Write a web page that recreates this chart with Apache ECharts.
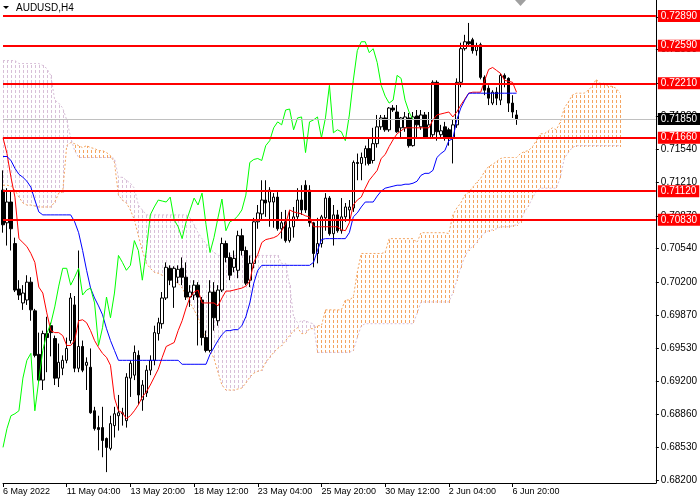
<!DOCTYPE html>
<html><head><meta charset="utf-8">
<script src="https://cdn.jsdelivr.net/npm/echarts@6/dist/echarts.min.js"></script>
<style>html,body{margin:0;padding:0;background:#fff}#c{width:700px;height:500px}</style>
</head><body><div id="c"></div>
<script>
const symbolTitle = 'AUDUSD,H4';
const slotCount = 165;
const xTickLabels = ['6 May 2022','11 May 04:00','13 May 20:00','18 May 12:00','23 May 04:00','25 May 20:00','30 May 12:00','2 Jun 04:00','6 Jun 20:00'];
const yTickValues = [0.6820,0.6853,0.6886,0.6920,0.6953,0.6987,0.7020,0.7054,0.7087,0.7121,0.7154,0.7188,0.7221,0.7255,0.7288];
const levels = [0.7289,0.7259,0.7221,0.7166,0.7112,0.7083];
const bidPrice = 0.7185;

const open = [
0.7113,0.7080,0.7101,0.7059,0.7013,0.6999,0.7002,0.7020,0.6991,0.6947,
0.6921,0.6968,0.6976,0.6963,0.6923,0.6933,0.6941,0.6961,0.6997,0.6933,
0.6955,0.6936,0.6934,0.6890,0.6873,0.6873,0.6862,0.6852,0.6875,0.6885,
0.6887,0.6880,0.6923,0.6926,0.6946,0.6901,0.6908,0.6931,0.6941,0.6968,
0.6978,0.7004,0.7034,0.7015,0.7025,0.7034,0.7025,0.7005,0.7007,0.7017,
0.7002,0.6964,0.6951,0.7010,0.6981,0.7012,0.7059,0.7045,0.7035,0.7032,
0.7067,0.7052,0.7022,0.7039,0.7081,0.7089,0.7103,0.7101,0.7101,0.7106,
0.7074,0.7081,0.7062,0.7076,0.7086,0.7103,0.7118,0.7113,0.7080,0.7049,
0.7059,0.7085,0.7105,0.7069,0.7088,0.7072,0.7086,0.7093,0.7095,0.7141,
0.7140,0.7146,0.7155,0.7143,0.7160,0.7177,0.7186,0.7174,0.7196,0.7192,
0.7176,0.7176,0.7186,0.7158,0.7188,0.7177,0.7189,0.7166,0.7169,0.7222,
0.7169,0.7177,0.7174,0.7166,0.7179,0.7222,0.7256,0.7263,0.7265,0.7254,
0.7260,0.7227,0.7216,0.7201,0.7212,0.7204,0.7229,0.7226,0.7201,0.7189];
const close = [
0.7078,0.7101,0.7074,0.7012,0.7007,0.7009,0.7020,0.6992,0.6946,0.6921,
0.6968,0.6964,0.6969,0.6923,0.6939,0.6941,0.6953,0.7004,0.6933,0.6955,
0.6931,0.6939,0.6888,0.6872,0.6871,0.6860,0.6853,0.6877,0.6887,0.6888,
0.6888,0.6924,0.6938,0.6949,0.6906,0.6916,0.6931,0.6941,0.6969,0.6979,
0.7004,0.7035,0.7022,0.7034,0.7033,0.7025,0.7005,0.7010,0.7017,0.7005,
0.6964,0.6951,0.7010,0.6984,0.7012,0.7059,0.7045,0.7027,0.7044,0.7067,
0.7052,0.7019,0.7039,0.7081,0.7090,0.7103,0.7100,0.7113,0.7106,0.7074,
0.7080,0.7062,0.7075,0.7086,0.7103,0.7093,0.7093,0.7080,0.7049,0.7059,
0.7086,0.7105,0.7069,0.7088,0.7072,0.7086,0.7096,0.7096,0.7141,0.7140,
0.7146,0.7155,0.7140,0.7160,0.7177,0.7186,0.7174,0.7196,0.7194,0.7172,
0.7186,0.7187,0.7158,0.7187,0.7179,0.7189,0.7166,0.7179,0.7222,0.7172,
0.7173,0.7166,0.7166,0.7179,0.7222,0.7256,0.7263,0.7261,0.7254,0.7259,
0.7227,0.7214,0.7206,0.7212,0.7206,0.7229,0.7226,0.7201,0.7192,0.7185];
const low = [
0.7070,0.7057,0.7052,0.7010,0.7002,0.6992,0.6997,0.6981,0.6944,0.6918,
0.6911,0.6929,0.6945,0.6916,0.6914,0.6926,0.6938,0.6958,0.6929,0.6929,
0.6929,0.6911,0.6887,0.6870,0.6850,0.6843,0.6828,0.6850,0.6863,0.6870,
0.6875,0.6873,0.6904,0.6921,0.6896,0.6890,0.6904,0.6926,0.6936,0.6961,
0.6973,0.7002,0.7017,0.6994,0.7019,0.7017,0.7002,0.6995,0.7002,0.6956,
0.6956,0.6949,0.6949,0.6971,0.6976,0.7010,0.7040,0.7022,0.7030,0.7024,
0.7047,0.7017,0.7015,0.7034,0.7074,0.7083,0.7086,0.7076,0.7075,0.7072,
0.7064,0.7060,0.7060,0.7065,0.7083,0.7088,0.7090,0.7076,0.7035,0.7039,
0.7055,0.7072,0.7067,0.7057,0.7070,0.7069,0.7081,0.7083,0.7091,0.7123,
0.7123,0.7138,0.7138,0.7140,0.7156,0.7174,0.7172,0.7172,0.7192,0.7171,
0.7166,0.7172,0.7156,0.7157,0.7166,0.7174,0.7165,0.7165,0.7166,0.7163,
0.7166,0.7163,0.7158,0.7140,0.7176,0.7217,0.7254,0.7258,0.7251,0.7249,
0.7225,0.7209,0.7199,0.7199,0.7199,0.7199,0.7217,0.7192,0.7186,0.7179];
const high = [
0.7133,0.7115,0.7113,0.7065,0.7022,0.7017,0.7027,0.7025,0.6993,0.6969,
0.6971,0.6985,0.6979,0.6966,0.6958,0.6946,0.6964,0.7009,0.7006,0.7052,
0.6961,0.6944,0.6953,0.6894,0.6885,0.6894,0.6863,0.6885,0.6894,0.6906,
0.6893,0.6928,0.6941,0.6956,0.6951,0.6921,0.6936,0.6946,0.6976,0.6984,
0.7010,0.7040,0.7037,0.7036,0.7037,0.7045,0.7040,0.7017,0.7022,0.7020,
0.7005,0.6971,0.7022,0.7020,0.7017,0.7065,0.7062,0.7050,0.7052,0.7072,
0.7074,0.7056,0.7047,0.7085,0.7098,0.7123,0.7123,0.7116,0.7110,0.7111,
0.7091,0.7093,0.7093,0.7096,0.7115,0.7118,0.7123,0.7118,0.7081,0.7085,
0.7088,0.7110,0.7107,0.7098,0.7093,0.7105,0.7100,0.7103,0.7143,0.7150,
0.7151,0.7158,0.7165,0.7176,0.7189,0.7189,0.7189,0.7197,0.7199,0.7199,
0.7187,0.7192,0.7191,0.7192,0.7194,0.7194,0.7192,0.7192,0.7224,0.7224,
0.7179,0.7182,0.7176,0.7184,0.7226,0.7262,0.7270,0.7282,0.7267,0.7262,
0.7262,0.7229,0.7219,0.7214,0.7217,0.7231,0.7231,0.7227,0.7209,0.7194];

const tenkan = [
0.7166,0.7150,0.7126,0.7106,0.7064,0.7060,0.7056,0.7049,0.7040,0.7015,
0.7009,0.6989,0.6971,0.6969,0.6969,0.6966,0.6956,0.6956,0.6961,0.6981,
0.6982,0.6979,0.6971,0.6961,0.6954,0.6948,0.6944,0.6936,0.6903,0.6890,
0.6888,0.6882,0.6885,0.6890,0.6896,0.6904,0.6909,0.6916,0.6924,0.6932,
0.6944,0.6955,0.6957,0.6959,0.6971,0.6981,0.6994,0.7005,0.7010,0.7012,
0.6999,0.6999,0.6999,0.6999,0.6996,0.7004,0.7011,0.7011,0.7012,0.7013,
0.7014,0.7016,0.7021,0.7040,0.7048,0.7060,0.7063,0.7064,0.7065,0.7067,
0.7072,0.7079,0.7093,0.7091,0.7090,0.7089,0.7087,0.7086,0.7076,0.7076,
0.7076,0.7076,0.7076,0.7076,0.7076,0.7073,0.7072,0.7080,0.7098,0.7103,
0.7106,0.7115,0.7123,0.7128,0.7133,0.7145,0.7149,0.7157,0.7164,0.7170,
0.7173,0.7176,0.7176,0.7176,0.7176,0.7176,0.7176,0.7176,0.7184,0.7189,
0.7190,0.7191,0.7192,0.7187,0.7192,0.7199,0.7205,0.7211,0.7212,0.7212,
0.7212,0.7224,0.7235,0.7237,0.7234,0.7231,0.7224,0.7223,0.7222,0.7212];
const kijun = [
0.7147,0.7147,0.7143,0.7135,0.7129,0.7126,0.7122,0.7116,0.7103,0.7091,
0.7088,0.7088,0.7088,0.7088,0.7088,0.7088,0.7088,0.7088,0.7081,0.7070,
0.7052,0.7032,0.7014,0.7004,0.6996,0.6987,0.6973,0.6961,0.6951,0.6941,
0.6941,0.6941,0.6941,0.6941,0.6941,0.6941,0.6941,0.6941,0.6941,0.6941,
0.6941,0.6941,0.6941,0.6941,0.6941,0.6937,0.6937,0.6937,0.6937,0.6937,
0.6937,0.6937,0.6947,0.6954,0.6961,0.6967,0.6971,0.6971,0.6972,0.6972,
0.6976,0.6985,0.6999,0.7019,0.7032,0.7037,0.7037,0.7037,0.7037,0.7037,
0.7037,0.7037,0.7037,0.7037,0.7037,0.7037,0.7037,0.7037,0.7040,0.7052,
0.7063,0.7064,0.7064,0.7064,0.7064,0.7064,0.7064,0.7070,0.7086,0.7090,
0.7096,0.7101,0.7101,0.7101,0.7107,0.7112,0.7115,0.7116,0.7117,0.7118,
0.7118,0.7119,0.7119,0.7120,0.7122,0.7128,0.7130,0.7130,0.7133,0.7146,
0.7150,0.7153,0.7163,0.7165,0.7184,0.7196,0.7204,0.7211,0.7211,0.7211,
0.7211,0.7211,0.7211,0.7211,0.7211,0.7211,0.7211,0.7211,0.7211,0.7211];
const chikou = [
0.6853,0.6872,0.6885,0.6887,0.6890,0.6923,0.6941,0.6948,0.6890,0.6921,
0.6951,0.6968,0.6978,0.6995,0.7016,0.7034,0.7034,0.7017,0.7025,0.7034,
0.7007,0.7012,0.7014,0.6999,0.6956,0.6974,0.7005,0.6984,0.7009,0.7047,
0.7040,0.7032,0.7037,0.7062,0.7052,0.7022,0.7052,0.7088,0.7096,0.7103,
0.7102,0.7101,0.7106,0.7083,0.7076,0.7064,0.7081,0.7093,0.7105,0.7098,
0.7110,0.7078,0.7050,0.7065,0.7085,0.7104,0.7072,0.7081,0.7083,0.7087,
0.7093,0.7108,0.7141,0.7144,0.7145,0.7143,0.7158,0.7163,0.7176,0.7182,
0.7179,0.7194,0.7195,0.7174,0.7186,0.7187,0.7151,0.7182,0.7184,0.7187,
0.7166,0.7186,0.7219,0.7171,0.7174,0.7172,0.7163,0.7189,0.7224,0.7254,
0.7263,0.7263,0.7252,0.7256,0.7242,0.7219,0.7208,0.7201,0.7204,0.7229,
0.7226,0.7204,0.7192,0.7184];
const spanA = [
0.7118,0.7118,0.7117,0.7113,0.7106,0.7100,0.7098,0.7098,0.7097,0.7096,
0.7096,0.7096,0.7096,0.7101,0.7110,0.7111,0.7158,0.7161,0.7160,0.7158,
0.7156,0.7158,0.7156,0.7155,0.7153,0.7153,0.7151,0.7148,0.7141,0.7108,
0.7103,0.7100,0.7093,0.7083,0.7067,0.7052,0.7039,0.7034,0.7030,0.7029,
0.7027,0.7025,0.7023,0.7021,0.7019,0.7014,0.7007,0.6999,0.6992,0.6984,
0.6974,0.6961,0.6951,0.6943,0.6929,0.6916,0.6911,0.6911,0.6911,0.6912,
0.6913,0.6918,0.6924,0.6928,0.6930,0.6931,0.6939,0.6944,0.6949,0.6953,
0.6956,0.6961,0.6966,0.6971,0.6974,0.6968,0.6968,0.6973,0.6973,0.6976,
0.6976,0.6992,0.6992,0.6992,0.6992,0.6992,0.7002,0.7002,0.7005,0.7030,
0.7049,0.7049,0.7049,0.7049,0.7049,0.7049,0.7050,0.7064,0.7064,0.7064,
0.7064,0.7064,0.7064,0.7064,0.7060,0.7070,0.7070,0.7070,0.7070,0.7070,
0.7070,0.7070,0.7069,0.7088,0.7095,0.7100,0.7108,0.7111,0.7116,0.7121,
0.7125,0.7132,0.7137,0.7139,0.7142,0.7145,0.7146,0.7146,0.7146,0.7146,
0.7150,0.7152,0.7153,0.7157,0.7163,0.7170,0.7170,0.7173,0.7176,0.7174,
0.7182,0.7196,0.7202,0.7209,0.7211,0.7211,0.7211,0.7214,0.7218,0.7225,
0.7221,0.7221,0.7218,0.7218,0.7216,0.7211];
const spanB = [
0.7244,0.7244,0.7244,0.7244,0.7241,0.7241,0.7241,0.7241,0.7241,0.7241,
0.7239,0.7236,0.7229,0.7204,0.7201,0.7196,0.7184,0.7166,0.7153,0.7146,
0.7146,0.7146,0.7146,0.7146,0.7146,0.7146,0.7146,0.7146,0.7145,0.7126,
0.7126,0.7123,0.7120,0.7115,0.7098,0.7093,0.7088,0.7088,0.7088,0.7088,
0.7088,0.7088,0.7088,0.7088,0.7088,0.7088,0.7088,0.7085,0.7078,0.7070,
0.7064,0.7059,0.7054,0.7050,0.7047,0.7047,0.7047,0.7047,0.7047,0.7047,
0.7047,0.7047,0.7047,0.7047,0.7047,0.7047,0.7047,0.7047,0.7047,0.7047,
0.7039,0.7039,0.7017,0.6985,0.6979,0.6981,0.6981,0.6979,0.6978,0.6949,
0.6949,0.6949,0.6949,0.6949,0.6949,0.6949,0.6949,0.6949,0.6951,0.6964,
0.6976,0.6978,0.6978,0.6978,0.6978,0.6978,0.6978,0.6978,0.6978,0.6978,
0.6978,0.6978,0.6978,0.6978,0.6988,0.7000,0.7000,0.7000,0.7000,0.7000,
0.7000,0.7000,0.7000,0.7009,0.7022,0.7035,0.7046,0.7053,0.7056,0.7060,
0.7066,0.7070,0.7072,0.7073,0.7074,0.7076,0.7076,0.7076,0.7077,0.7078,
0.7081,0.7091,0.7097,0.7105,0.7112,0.7115,0.7115,0.7115,0.7115,0.7115,
0.7126,0.7145,0.7151,0.7156,0.7158,0.7158,0.7158,0.7158,0.7158,0.7158,
0.7158,0.7158,0.7158,0.7158,0.7158,0.7158];

const UP_CLOUD = '#F4A460', DOWN_CLOUD = '#D8BFD8';
const categories = [];
for (let i = 0; i < slotCount; i++) categories.push(String(i));
const candleData = open.map((o, i) => [o, close[i], low[i], high[i]]);
const cloudUp = [], cloudDown = [];
spanA.forEach((a, i) => { (a >= spanB[i] ? cloudUp : cloudDown).push([i, a, spanB[i]]); });
const isTick = i => i % 16 === 0 && i / 16 < xTickLabels.length;
const FONT = 'Liberation Sans';

// vertical dotted hatch: one 1-px column of short dashes per bar
function hatch(color) {
  return (params, api) => {
    const i = api.value(0);
    const p1 = api.coord([i, api.value(1)]), p2 = api.coord([i, api.value(2)]);
    const x = Math.round(p1[0]);
    const top = Math.round(Math.min(p1[1], p2[1])), bot = Math.round(Math.max(p1[1], p2[1]));
    const children = [];
    for (let y = top - (top % 5); y <= bot; y += 5) {
      const y0 = Math.max(y, top), y1 = Math.min(y + 3, bot + 1);
      if (y1 > y0) children.push({type: 'rect', shape: {x: x, y: y0, width: 1, height: y1 - y0},
        style: {fill: color}});
    }
    return {type: 'group', children: children};
  };
}

const levelLine = (v, bg, lc, w) => ({
  yAxis: v,
  lineStyle: {color: lc, width: w, type: 'solid', opacity: 1},
  label: {show: true, position: 'end', distance: 2, formatter: () => v.toFixed(5),
    backgroundColor: bg, color: '#fff', fontSize: 10, fontFamily: FONT,
    padding: [1, 3, 0, 3], lineHeight: 11}
});

const chart = echarts.init(document.getElementById('c'));
chart.setOption({
  animation: false,
  backgroundColor: '#fff',
  grid: {left: 0, right: 44, top: 0, bottom: 17},
  xAxis: {
    type: 'category', data: categories, boundaryGap: false,
    axisLine: {show: true, lineStyle: {color: '#000', width: 1}},
    axisTick: {show: true, interval: isTick, length: 4, lineStyle: {color: '#000'}},
    axisLabel: {interval: isTick, formatter: (v, i) => xTickLabels[i / 16] || '', align: 'left',
      margin: 4, fontSize: 9, fontFamily: FONT, color: '#000'},
    splitLine: {show: false}, splitArea: {show: false}
  },
  yAxis: {
    type: 'value', position: 'right', min: 0.6817, max: 0.73052,
    axisLine: {show: true, lineStyle: {color: '#000'}},
    axisTick: {show: true, customValues: yTickValues, length: 3, lineStyle: {color: '#000'}},
    axisLabel: {customValues: yTickValues, formatter: v => v.toFixed(5), fontSize: 10,
      fontFamily: FONT, color: '#000', margin: 5},
    splitLine: {show: false}, splitArea: {show: false}
  },
  graphic: [
    {type: 'polygon', shape: {points: [[3, 6], [9, 6], [6, 9]]}, style: {fill: '#000'}, z: 100},
    {type: 'text', left: 16, top: 3, style: {text: symbolTitle, fontSize: 10, fontFamily: FONT, fill: '#000'}, z: 100},
    {type: 'polygon', shape: {points: [[515, 0], [526, 0], [520.5, 6]]}, style: {fill: '#A0A0A0'}, z: 100}
  ],
  series: [
    {type: 'custom', name: 'cloud up', data: cloudUp, z: 1,
      encode: {x: 0, y: [1, 2]}, renderItem: hatch(UP_CLOUD)},
    {type: 'custom', name: 'cloud down', data: cloudDown, z: 1,
      encode: {x: 0, y: [1, 2]}, renderItem: hatch(DOWN_CLOUD)},
    {type: 'line', name: 'Senkou A', data: spanA, symbol: 'none', z: 2,
      lineStyle: {color: UP_CLOUD, width: 1, type: [2, 2]}},
    {type: 'line', name: 'Senkou B', data: spanB, symbol: 'none', z: 2,
      lineStyle: {color: DOWN_CLOUD, width: 1, type: [2, 2]}},
    {type: 'candlestick', name: 'AUDUSD', data: candleData, z: 3, barWidth: 3,
      itemStyle: {color: '#FFFFFF', color0: '#000000', borderColor: '#000000', borderColor0: '#000000', borderWidth: 1},
      markLine: {silent: true, symbol: ['none', 'none'], animation: false, precision: 5, z: 30,
        data: levels.map(v => levelLine(v, '#FF0000', '#FF0000', 2))
          .concat([levelLine(bidPrice, '#000000', '#C0C0C0', 1)])}},
    {type: 'line', name: 'Tenkan', data: tenkan, symbol: 'none', z: 4,
      lineStyle: {color: '#FF0000', width: 1}},
    {type: 'line', name: 'Kijun', data: kijun, symbol: 'none', z: 4,
      lineStyle: {color: '#0000FF', width: 1}},
    {type: 'line', name: 'Chikou', data: chikou, symbol: 'none', z: 4,
      lineStyle: {color: '#00FF00', width: 1}}
  ]
});
</script></body></html>
